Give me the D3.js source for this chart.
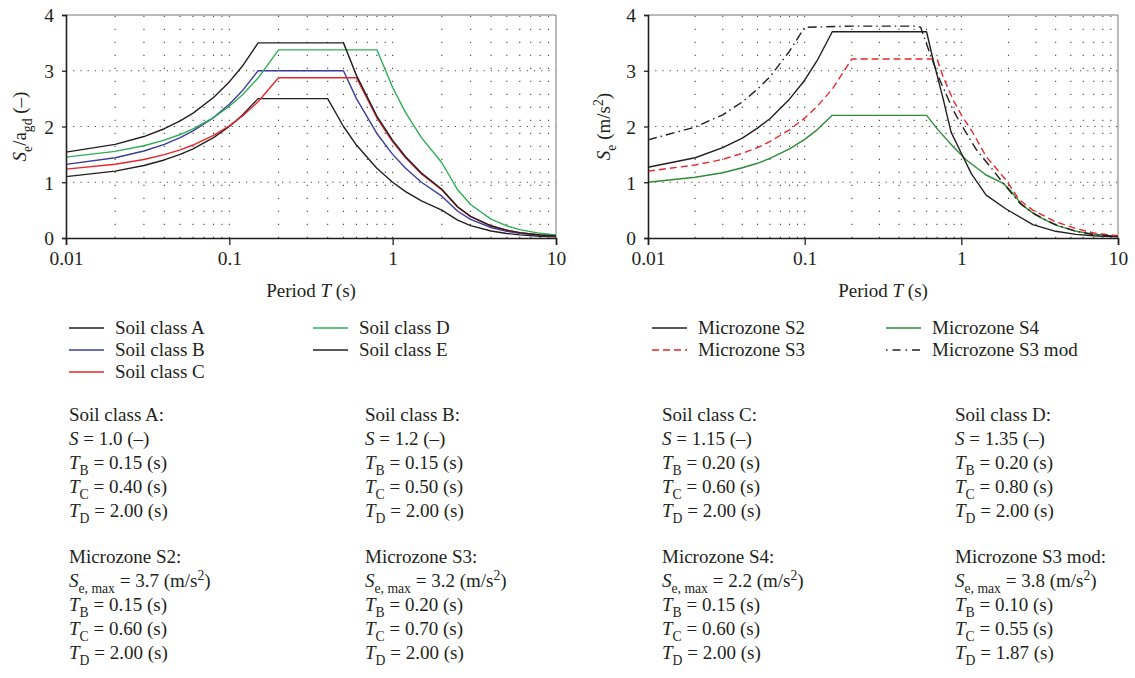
<!DOCTYPE html>
<html>
<head>
<meta charset="utf-8">
<script src="https://cdn.jsdelivr.net/npm/d3@7"></script>
<style>
  html, body { margin: 0; padding: 0; background: #fff; }
  svg { display: block; font-family: "Liberation Serif", "DejaVu Serif", serif; }
</style>
</head>
<body>
<svg id="chart" width="1135" height="678"></svg>
<script>
// ---------- DATA ----------
const xTicks = [0.01, 0.1, 1, 10];
const xTickLabels = ["0.01", "0.1", "1", "10"];
const yTicks = [0, 1, 2, 3, 4];
const yTickLabels = ["0", "1", "2", "3", "4"];

// Left panel: normalised elastic spectra (Se/agd) per soil class
const soilPeriods = [0.01,0.02,0.03,0.04,0.05,0.06,0.08,0.1,0.12,0.15,0.2,0.3,0.4,0.5,0.6,0.8,1,1.2,1.5,2,2.5,3,4,5,6,8,10];
const soilA = [1.1,1.2,1.3,1.4,1.5,1.6,1.8,2.0,2.2,2.5,2.5,2.5,2.5,2.0,1.667,1.25,1.0,0.833,0.667,0.5,0.32,0.222,0.125,0.08,0.056,0.031,0.02];
const soilB = [1.32,1.44,1.56,1.68,1.8,1.92,2.16,2.4,2.64,3.0,3.0,3.0,3.0,3.0,2.5,1.875,1.5,1.25,1.0,0.75,0.48,0.333,0.188,0.12,0.083,0.047,0.03];
const soilC = [1.236,1.323,1.409,1.495,1.581,1.668,1.84,2.013,2.185,2.444,2.875,2.875,2.875,2.875,2.875,2.156,1.725,1.438,1.15,0.863,0.552,0.383,0.216,0.138,0.096,0.054,0.035];
const soilD = [1.451,1.553,1.654,1.755,1.856,1.958,2.16,2.363,2.565,2.869,3.375,3.375,3.375,3.375,3.375,3.375,2.7,2.25,1.8,1.35,0.864,0.6,0.338,0.216,0.15,0.084,0.054];
const soilE = [1.54,1.68,1.82,1.96,2.1,2.24,2.52,2.8,3.08,3.5,3.5,3.5,3.5,3.5,2.917,2.188,1.75,1.458,1.167,0.875,0.56,0.389,0.219,0.14,0.097,0.055,0.035];

// Right panel: microzone spectra Se (m/s2)
const s2Periods = [0.01,0.02,0.03,0.04,0.05,0.06,0.08,0.1,0.12,0.15,0.6,0.66,0.765,0.86,1,1.16,1.44,1.93,2.86,4,5.4,7,10];
const s2Values  = [1.27,1.44,1.62,1.79,1.97,2.14,2.49,2.83,3.18,3.7,3.7,3.2,2.5,1.9,1.52,1.15,0.77,0.52,0.24,0.12,0.065,0.04,0.02];
const s3Periods = [0.01,0.02,0.03,0.04,0.05,0.06,0.08,0.1,0.12,0.15,0.2,0.7,0.765,0.885,1,1.19,1.44,1.93,2.35,2.86,4,5.4,7,10];
const s3Values  = [1.2,1.31,1.41,1.52,1.62,1.73,1.94,2.15,2.36,2.67,3.21,3.21,2.89,2.48,2.21,1.88,1.46,1.04,0.68,0.5,0.29,0.17,0.09,0.04];
const s4Periods = [0.01,0.02,0.03,0.04,0.05,0.06,0.08,0.1,0.12,0.15,0.6,0.71,0.885,1.076,1.44,1.85,2.02,2.45,2.99,4,5.4,7,10];
const s4Values  = [1.0,1.09,1.17,1.26,1.34,1.43,1.6,1.77,1.94,2.2,2.2,1.94,1.64,1.40,1.13,0.98,0.88,0.59,0.41,0.23,0.12,0.07,0.03];
const s3modPeriods = [0.01,0.02,0.03,0.04,0.05,0.06,0.08,0.1,0.2,0.5,0.55,0.63,0.73,0.885,1,1.25,1.59,1.93,2.35,2.86,3.48,4,5.4,7,10];
const s3modValues  = [1.76,1.99,2.21,2.44,2.67,2.89,3.35,3.78,3.8,3.8,3.78,3.31,2.83,2.30,2.03,1.58,1.22,0.92,0.63,0.45,0.32,0.24,0.12,0.06,0.03];

const soilLegend = ["Soil class A", "Soil class B", "Soil class C", "Soil class D", "Soil class E"];
const zoneLegend = ["Microzone S2", "Microzone S3", "Microzone S4", "Microzone S3 mod"];

// parameter text tables
const soilParamNames = ["Soil class A:", "Soil class B:", "Soil class C:", "Soil class D:"];
const soilS  = ["1.0", "1.2", "1.15", "1.35"];
const soilTB = ["0.15", "0.15", "0.20", "0.20"];
const soilTC = ["0.40", "0.50", "0.60", "0.80"];
const soilTD = ["2.00", "2.00", "2.00", "2.00"];
const zoneParamNames = ["Microzone S2:", "Microzone S3:", "Microzone S4:", "Microzone S3 mod:"];
const zoneSe = ["3.7", "3.2", "2.2", "3.8"];
const zoneTB = ["0.15", "0.20", "0.15", "0.10"];
const zoneTC = ["0.60", "0.70", "0.60", "0.55"];
const zoneTD = ["2.00", "2.00", "2.00", "1.87"];

// ---------- DRAWING ----------
const svg = d3.select("#chart");
const FS = 19;
const plotTop = 15, plotBottom = 238;
const INK = "#231f20";

function richText(g, x, y, segs, size) {
  const t = g.append("text").attr("x", x).attr("y", y).attr("font-size", size).attr("fill", INK);
  let shift = 0;
  segs.forEach(s => {
    const sp = t.append("tspan").text(s.t);
    let target = 0, fs = size;
    if (s.sub) { target = size * 0.3; fs = size * 0.72; }
    if (s.sup) { target = -size * 0.38; fs = size * 0.72; }
    sp.attr("dy", target - shift).attr("font-size", fs);
    shift = target;
    if (s.i) sp.attr("font-style", "italic");
  });
  return t;
}

function panel(x0, x1, series, yLabelSegs, yLabelX) {
  const x = d3.scaleLog().domain([0.01, 10]).range([x0, x1]);
  const y = d3.scaleLinear().domain([0, 4]).range([plotBottom, plotTop]);
  const g = svg.append("g");

  // grid: vertical at every log tick, horizontal at integers
  const minor = [];
  [0.01, 0.1, 1].forEach(d => { for (let k = 1; k <= 9; k++) minor.push(d * k); });
  g.append("g").selectAll("line").data(minor.filter(v => v > 0.01)).join("line")
    .attr("x1", d => x(d)).attr("x2", d => x(d)).attr("y1", plotBottom).attr("y2", plotTop)
    .attr("stroke", "#444").attr("stroke-width", 1.1).attr("stroke-dasharray", "1.2,11.8");
  g.append("g").selectAll("line").data([1, 2, 3]).join("line")
    .attr("x1", x0).attr("x2", x1).attr("y1", d => y(d)).attr("y2", d => y(d))
    .attr("stroke", "#444").attr("stroke-width", 1.1).attr("stroke-dasharray", "1.2,6");

  // frame top/right
  g.append("line").attr("x1", x0).attr("x2", x1).attr("y1", plotTop).attr("y2", plotTop).attr("stroke", "#777").attr("stroke-width", 1);
  g.append("line").attr("x1", x1).attr("x2", x1).attr("y1", plotTop).attr("y2", plotBottom).attr("stroke", "#777").attr("stroke-width", 1);

  // series
  const line = d3.line().x(d => x(d[0])).y(d => y(d[1]));
  series.forEach(s => {
    g.append("path").datum(d3.zip(s.p, s.v)).attr("d", line)
      .attr("fill", "none").attr("stroke", s.c).attr("stroke-width", 1.4)
      .attr("stroke-dasharray", s.dash || null).attr("stroke-linejoin", "round");
  });

  // axes
  const xa = g.append("g").attr("transform", `translate(0,${plotBottom})`)
    .call(d3.axisBottom(x).tickValues(xTicks).tickFormat((d, i) => xTickLabels[i]).tickSize(7).tickPadding(6));
  const ya = g.append("g").attr("transform", `translate(${x0},0)`)
    .call(d3.axisLeft(y).tickValues(yTicks).tickFormat((d, i) => yTickLabels[i]).tickSize(4).tickPadding(8));
  [xa, ya].forEach(a => {
    a.select(".domain").attr("stroke", INK).attr("stroke-width", 1.6);
    a.selectAll(".tick line").attr("stroke", INK).attr("stroke-width", 1.3);
    a.selectAll("text").attr("font-size", 19.5).attr("fill", INK)
      .attr("font-family", '"Liberation Serif", serif');
  });
  ya.selectAll("text").attr("dy", "0.35em");

  // x title
  richText(g, (x0 + x1) / 2, 297, [{t: "Period "}, {t: "T", i: true}, {t: " (s)"}], 19)
    .attr("text-anchor", "middle");
  // y title
  richText(g, 0, 0, yLabelSegs, 19).attr("text-anchor", "middle")
    .attr("transform", `translate(${yLabelX},${(plotTop + plotBottom) / 2}) rotate(-90)`);
  return {x, y};
}

panel(66, 556, [
  {p: soilPeriods, v: soilA, c: INK},
  {p: soilPeriods, v: soilB, c: "#3b3c9c"},
  {p: soilPeriods, v: soilC, c: "#e8262b"},
  {p: soilPeriods, v: soilD, c: "#2fae57"},
  {p: soilPeriods, v: soilE, c: INK}
], [{t: "S", i: true}, {t: "e", sub: true}, {t: "/a"}, {t: "gd", sub: true}, {t: " (–)"}], 26);

panel(648, 1118, [
  {p: s4Periods, v: s4Values, c: "#2e8b37"},
  {p: s3Periods, v: s3Values, c: "#e8262b", dash: "7,4"},
  {p: s3modPeriods, v: s3modValues, c: INK, dash: "9,4,1.5,4"},
  {p: s2Periods, v: s2Values, c: INK}
], [{t: "S", i: true}, {t: "e", sub: true}, {t: " (m/s"}, {t: "2", sup: true}, {t: ")"}], 610);

// ---------- LEGENDS ----------
function legendItem(lx, ly, label, color, dash) {
  svg.append("line").attr("x1", lx).attr("x2", lx + 35).attr("y1", ly).attr("y2", ly)
    .attr("stroke", color).attr("stroke-width", 1.4).attr("stroke-dasharray", dash || null);
  svg.append("text").attr("x", lx + 46).attr("y", ly + 6).attr("font-size", FS).attr("fill", INK).text(label);
}
const soilColors = [INK, "#3b3c9c", "#e8262b", "#2fae57", INK];
const rowY = [328, 350, 372];
legendItem(69, rowY[0], soilLegend[0], soilColors[0]);
legendItem(69, rowY[1], soilLegend[1], soilColors[1]);
legendItem(69, rowY[2], soilLegend[2], soilColors[2]);
legendItem(313, rowY[0], soilLegend[3], soilColors[3]);
legendItem(313, rowY[1], soilLegend[4], soilColors[4]);

legendItem(652, rowY[0], zoneLegend[0], INK);
legendItem(652, rowY[1], zoneLegend[1], "#e8262b", "7,4");
legendItem(886, rowY[0], zoneLegend[2], "#2e8b37");
legendItem(886, rowY[1], zoneLegend[3], INK, "1.5,5,8,5");

// ---------- PARAMETER TEXT ----------
const colX = [69, 365, 662, 955];
const g2 = svg.append("g");
const rows1 = [421, 445, 469, 493, 517];
const rows2 = [563, 587, 611, 635, 659];
for (let i = 0; i < 4; i++) {
  richText(g2, colX[i], rows1[0], [{t: soilParamNames[i]}], FS);
  richText(g2, colX[i], rows1[1], [{t: "S", i: true}, {t: " = " + soilS[i] + " (–)"}], FS);
  richText(g2, colX[i], rows1[2], [{t: "T", i: true}, {t: "B", sub: true}, {t: " = " + soilTB[i] + " (s)"}], FS);
  richText(g2, colX[i], rows1[3], [{t: "T", i: true}, {t: "C", sub: true}, {t: " = " + soilTC[i] + " (s)"}], FS);
  richText(g2, colX[i], rows1[4], [{t: "T", i: true}, {t: "D", sub: true}, {t: " = " + soilTD[i] + " (s)"}], FS);

  richText(g2, colX[i], rows2[0], [{t: zoneParamNames[i]}], FS);
  richText(g2, colX[i], rows2[1], [{t: "S", i: true}, {t: "e, max", sub: true}, {t: " = " + zoneSe[i] + " (m/s"}, {t: "2", sup: true}, {t: ")"}], FS);
  richText(g2, colX[i], rows2[2], [{t: "T", i: true}, {t: "B", sub: true}, {t: " = " + zoneTB[i] + " (s)"}], FS);
  richText(g2, colX[i], rows2[3], [{t: "T", i: true}, {t: "C", sub: true}, {t: " = " + zoneTC[i] + " (s)"}], FS);
  richText(g2, colX[i], rows2[4], [{t: "T", i: true}, {t: "D", sub: true}, {t: " = " + zoneTD[i] + " (s)"}], FS);
}
</script>
</body>
</html>
